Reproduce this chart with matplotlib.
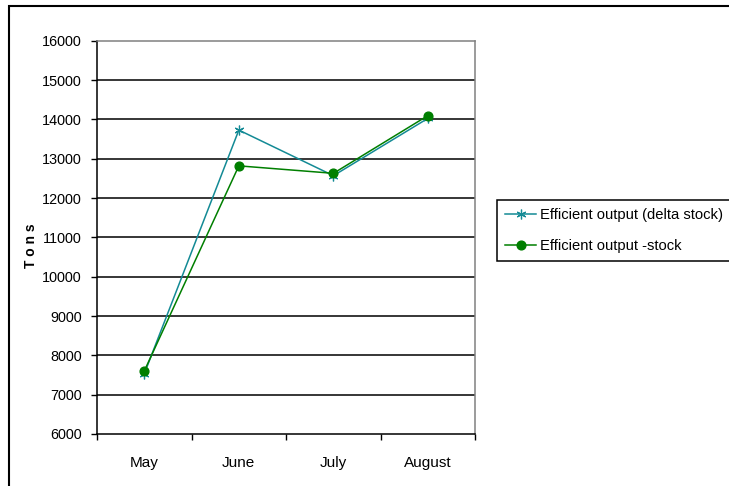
import matplotlib.pyplot as plt
from matplotlib.patches import Rectangle

months = ['May', 'June', 'July', 'August']
delta_stock = [7530, 13730, 12570, 14030]
stock = [7600, 12820, 12630, 14100]
y_ticks = list(range(6000, 16001, 1000))

plt.rcParams['font.family'] = ['Liberation Sans', 'DejaVu Sans']

fig = plt.figure(figsize=(7.29, 4.86), dpi=100)
ax = fig.add_axes([0.133, 0.107, 0.519, 0.809])

x = [i + 0.5 for i in range(len(months))]

# Horizontal gridlines in black, drawn under the series
for v in y_ticks[1:-1]:
    ax.axhline(v, color='black', lw=1.1, zorder=1)

ax.plot(x, delta_stock, color='#138a95', lw=1.1, marker=(6, 2, 0), markersize=7,
        markeredgewidth=0.9, label='Efficient output (delta stock)', zorder=3)
ax.plot(x, stock, color='#007f00', lw=1.1, marker='o', markersize=6.3,
        markeredgecolor='#007f00', label='Efficient output -stock', zorder=3)

ax.set_xlim(0, len(months))
ax.set_ylim(6000, 16000)
ax.set_yticks(y_ticks)
ax.tick_params(axis='y', direction='out', length=4.3, width=1, pad=6.5, labelsize=10.4)

# Category boundaries get the tick marks, names sit in between
ax.set_xticks(range(len(months) + 1))
ax.set_xticklabels([])
ax.set_xticks(x, minor=True)
ax.set_xticklabels(months, minor=True, fontsize=11)
ax.tick_params(axis='x', which='major', direction='out', length=4.3, width=1)
ax.tick_params(axis='x', which='minor', length=0, pad=15.5)

ax.spines['left'].set_color('black')
ax.spines['bottom'].set_color('black')
ax.spines['top'].set_color('#808080')
ax.spines['right'].set_color('#808080')
for s in ax.spines.values():
    s.set_linewidth(1.1)

fig.text(0.043, 0.495, 'T o n s', rotation=90, fontsize=10, fontweight='bold',
         ha='center', va='center')

leg = fig.legend(loc='upper left', bbox_to_anchor=(0.6818, 0.5885), fontsize=10.6,
                 frameon=True, fancybox=False, framealpha=1, edgecolor='black',
                 handlelength=2.1, handletextpad=0.3, labelspacing=1.15,
                 borderpad=0.55, borderaxespad=0)
leg.get_frame().set_linewidth(1.1)

# Chart area border, running off the right and bottom edges
fig.add_artist(Rectangle((0.0123, -0.2), 1.5, 1.1877, transform=fig.transFigure,
                         fill=False, edgecolor='black', lw=1.5))

fig.savefig('out.png', dpi=100)
